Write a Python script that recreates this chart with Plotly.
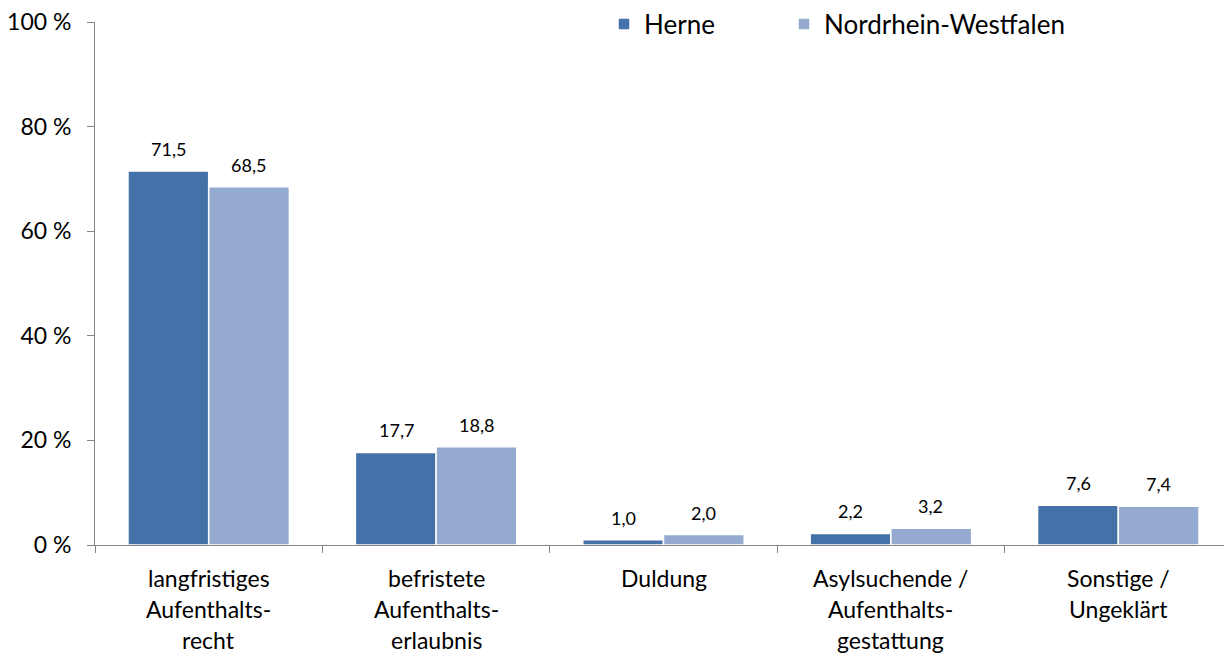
import plotly.graph_objects as go

categories = ["langfristiges<br>Aufenthalts-<br>recht",
              "befristete<br>Aufenthalts-<br>erlaubnis",
              "Duldung",
              "Asylsuchende /<br>Aufenthalts-<br>gestattung",
              "Sonstige /<br>Ungeklärt"]
cat_keys = ["c1", "c2", "c3", "c4", "c5"]
herne = [71.5, 17.7, 1.0, 2.2, 7.6]
nrw = [68.5, 18.8, 2.0, 3.2, 7.4]
y_ticks = [0, 20, 40, 60, 80, 100]
y_tick_labels = ["0 %", "20 %", "40 %", "60 %", "80 %", "100 %"]

FONT = "Lato"
OFF = 8  # page body margin offset of the rendered div
W, H = 1232 - OFF, 655 - OFF
L = 95 - OFF          # plot left in figure px
TOP = 22 - OFF        # plot top in figure px
BOT = H - (545 - OFF)  # bottom margin in figure px

fig = go.Figure()
fig.add_trace(go.Bar(x=cat_keys, y=herne, name="Herne", legend="legend",
                     marker=dict(color="#4472A8", line=dict(color="white", width=1.5))))
fig.add_trace(go.Bar(x=cat_keys, y=nrw, name="Nordrhein-Westfalen", legend="legend2",
                     marker=dict(color="#95AACF", line=dict(color="white", width=1.5))))

# data labels
for vals, xs in ((herne, -40), (nrw, 40)):
    for key, v in zip(cat_keys, vals):
        fig.add_annotation(x=key, y=v, xref="x", yref="y", xshift=xs, yshift=9,
                           yanchor="bottom", showarrow=False,
                           text=f"{v:.1f}".replace(".", ","),
                           font=dict(size=18, color="black", family=FONT))

# category labels (one annotation per line for wider line spacing)
for key, lab in zip(cat_keys, categories):
    for i, line in enumerate(lab.split("<br>")):
        fig.add_annotation(x=key, y=0, xref="x", yref="y", yanchor="middle",
                           yshift=-33 - 31 * i, text=line, showarrow=False,
                           font=dict(size=23, color="black", family=FONT))

leg_common = dict(orientation="h", yanchor="middle", y=1 - 16 / H, xanchor="left",
                  font=dict(size=26, color="black", family=FONT),
                  bgcolor="rgba(0,0,0,0)")
fig.update_layout(
    width=W, height=H,
    margin=dict(l=0, r=0, t=0, b=0, autoexpand=False),
    paper_bgcolor="white", plot_bgcolor="white",
    barmode="group", bargap=0.29, bargroupgap=0,
    font=dict(family=FONT, color="black"),
    showlegend=True,
    legend=dict(x=596 / W, **leg_common),
    legend2=dict(x=776 / W, **leg_common),
)
fig.update_xaxes(domain=[L / W, 1], showticklabels=False, showline=True,
                 linecolor="#868686", linewidth=1,
                 ticks="outside", tickson="boundaries", ticklen=7, tickcolor="#868686",
                 showgrid=False, zeroline=False, automargin=False)
fig.update_yaxes(domain=[BOT / H, 1 - TOP / H], range=[0, 100], tickvals=y_ticks,
                 ticktext=y_tick_labels,
                 showline=True, linecolor="#868686", linewidth=1,
                 ticks="outside", ticklen=7, tickcolor="#868686",
                 tickfont=dict(size=23, color="black", family=FONT),
                 ticklabelstandoff=11, automargin=False, ticklabeloverflow="allow",
                 showgrid=False, zeroline=False)

fig.write_html("out.html")
